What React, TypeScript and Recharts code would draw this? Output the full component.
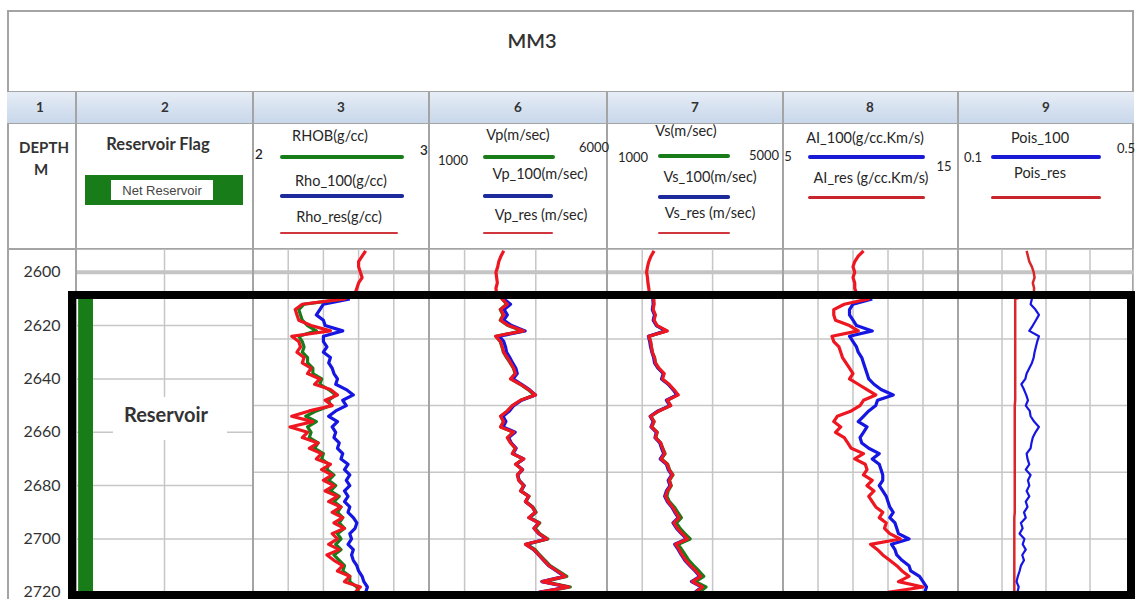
import React from 'react';
import { LineChart, Line, XAxis, YAxis, CartesianGrid, ReferenceLine, ReferenceArea } from 'recharts';

// depth samples (m), every 2 m
const DEPTH = [
  2592, 2594, 2596, 2598, 2600, 2602, 2604, 2606, 2608, 2610,
  2612, 2614, 2616, 2618, 2620, 2622, 2624, 2626, 2628, 2630,
  2632, 2634, 2636, 2638, 2640, 2642, 2644, 2646, 2648, 2650,
  2652, 2654, 2656, 2658, 2660, 2662, 2664, 2666, 2668, 2670,
  2672, 2674, 2676, 2678, 2680, 2682, 2684, 2686, 2688, 2690,
  2692, 2694, 2696, 2698, 2700, 2702, 2704, 2706, 2708, 2710,
  2712, 2714, 2716, 2718, 2720,
];

const N9 = [null, null, null, null, null, null, null, null, null];

// track 3 - density (g/cc)
const RHOB = [...N9,
  2.52, 2.29, 2.26, 2.27, 2.28, 2.31, 2.36, 2.26, 2.28, 2.29,
  2.28, 2.31, 2.31, 2.34, 2.34, 2.39, 2.38, 2.43, 2.47, 2.43,
  2.44, 2.36, 2.30, 2.36, 2.31, 2.33, 2.32, 2.37, 2.35, 2.40,
  2.39, 2.43, 2.42, 2.46, 2.43, 2.47, 2.44, 2.49, 2.46, 2.50,
  2.48, 2.51, 2.49, 2.52, 2.48, 2.50, 2.47, 2.50, 2.46, 2.49,
  2.52, 2.51, 2.55, 2.55, 2.59, 2.60,
];
const RHO_100 = [...N9,
  2.55, 2.40, 2.38, 2.36, 2.40, 2.41, 2.51, 2.40, 2.40, 2.42,
  2.40, 2.44, 2.43, 2.45, 2.46, 2.48, 2.47, 2.53, 2.57, 2.51,
  2.53, 2.47, 2.43, 2.48, 2.45, 2.47, 2.46, 2.49, 2.48, 2.51,
  2.50, 2.54, 2.52, 2.55, 2.53, 2.55, 2.52, 2.54, 2.52, 2.55,
  2.54, 2.57, 2.59, 2.58, 2.55, 2.56, 2.54, 2.57, 2.56, 2.57,
  2.59, 2.60, 2.62, 2.63, 2.65, 2.64,
];
const RHO_RES = [
  2.64, 2.62, 2.60, 2.60, 2.61, 2.62, 2.60, 2.59, 2.58, 2.52,
  2.28, 2.24, 2.25, 2.26, 2.33, 2.44, 2.22, 2.26, 2.27, 2.25,
  2.29, 2.28, 2.33, 2.31, 2.38, 2.35, 2.44, 2.48, 2.41, 2.45,
  2.32, 2.22, 2.34, 2.21, 2.31, 2.28, 2.37, 2.32, 2.39, 2.36,
  2.44, 2.39, 2.45, 2.40, 2.46, 2.41, 2.48, 2.43, 2.50, 2.45,
  2.51, 2.46, 2.52, 2.45, 2.48, 2.43, 2.49, 2.42, 2.46, 2.51,
  2.48, 2.55, 2.52, 2.61, 2.58,
];

// track 6 - P velocity (m/sec)
const VP = [...N9,
  3060, 3180, 3000, 3080, 3000, 3220, 3620, 2880, 3000, 3050,
  3090, 3180, 3280, 3370, 3420, 3300, 3560, 3780, 3960, 3580,
  3350, 3210, 3020, 3090, 3020, 3370, 3210, 3300, 3420, 3350,
  3640, 3440, 3620, 3490, 3530, 3670, 3580, 3810, 3720, 3920,
  4010, 3830, 4110, 3980, 4110, 4340, 3750, 3980, 4110, 4260,
  4400, 4640, 4870, 4230, 4970, 4150,
];
const VP_100 = [...N9,
  3100, 3290, 3110, 3200, 3100, 3320, 3700, 2980, 3100, 3150,
  3180, 3270, 3350, 3440, 3480, 3360, 3600, 3820, 3990, 3600,
  3380, 3260, 3080, 3160, 3080, 3420, 3240, 3310, 3450, 3360,
  3660, 3450, 3630, 3490, 3530, 3670, 3580, 3800, 3710, 3900,
  3990, 3810, 4080, 3950, 4080, 4300, 3720, 3940, 4080, 4220,
  4360, 4580, 4800, 4170, 4900, 4080,
];
const VP_RES = [
  3100, 3020, 2960, 2930, 2880, 2900, 2920, 2880, 2900, 3050,
  3200, 3010, 3100, 3010, 3240, 3660, 2870, 3010, 3060, 3100,
  3200, 3290, 3380, 3430, 3290, 3570, 3800, 3990, 3570, 3340,
  3200, 3010, 3100, 3010, 3380, 3200, 3290, 3430, 3340, 3660,
  3430, 3620, 3480, 3520, 3660, 3570, 3800, 3710, 3900, 3990,
  3800, 4090, 3950, 4090, 4320, 3710, 3950, 4090, 4230, 4370,
  4600, 4830, 4180, 4930, 4090,
];

// track 7 - S velocity (m/sec)
const VS = [...N9,
  2060, 2060, 2040, 2090, 2060, 2130, 2340, 1960, 1990, 2010,
  2030, 2080, 2100, 2170, 2290, 2250, 2400, 2510, 2600, 2370,
  2440, 2180, 2000, 2070, 2020, 2140, 2110, 2220, 2270, 2320,
  2240, 2380, 2420, 2500, 2420, 2460, 2390, 2360, 2420, 2530,
  2610, 2690, 2580, 2660, 2770, 2890, 2620, 2700, 2780, 2860,
  2970, 3090, 3200, 3010, 3250, 3100,
];
const VS_100 = [...N9,
  2040, 2050, 2030, 2080, 2050, 2120, 2340, 1940, 1970, 1990,
  2020, 2060, 2080, 2160, 2280, 2240, 2390, 2500, 2590, 2350,
  2430, 2160, 1980, 2050, 2000, 2120, 2090, 2200, 2240, 2290,
  2210, 2350, 2390, 2470, 2390, 2430, 2350, 2310, 2370, 2470,
  2540, 2620, 2500, 2580, 2690, 2810, 2540, 2620, 2690, 2770,
  2880, 3000, 3110, 2920, 3150, 3000,
];
const VS_RES = [
  2070, 2000, 1950, 1920, 1900, 1920, 1930, 1950, 1960, 2060,
  2070, 2050, 2100, 2070, 2140, 2370, 1950, 1990, 2010, 2030,
  2080, 2100, 2180, 2300, 2260, 2410, 2520, 2620, 2370, 2450,
  2180, 1990, 2070, 2010, 2140, 2100, 2220, 2260, 2310, 2230,
  2370, 2410, 2490, 2410, 2450, 2370, 2330, 2390, 2490, 2560,
  2640, 2520, 2600, 2710, 2830, 2560, 2640, 2710, 2790, 2900,
  3020, 3130, 2940, 3170, 3020,
];

// track 8 - acoustic impedance (g/cc.Km/s)
const AI_100 = [...N9,
  10.1, 9.0, 8.8, 8.8, 9.0, 9.2, 10.1, 8.8, 9.0, 9.2,
  9.3, 9.5, 9.6, 9.7, 9.8, 9.9, 10.2, 10.6, 11.3, 10.4,
  10.3, 9.9, 9.6, 9.3, 9.8, 9.6, 9.4, 9.5, 9.9, 10.5,
  10.1, 10.5, 10.6, 10.7, 10.7, 10.5, 10.7, 10.9, 11.0, 11.1,
  11.3, 11.1, 11.4, 11.5, 11.6, 12.2, 11.2, 11.4, 11.5, 11.8,
  12.2, 12.3, 12.8, 13.0, 13.2, 13.1,
];
const AI_RES = [
  9.6, 9.3, 9.1, 9.0, 9.1, 9.0, 9.1, 9.1, 9.2, 9.9,
  8.5, 7.9, 7.9, 8.0, 8.8, 9.3, 7.8, 7.9, 8.2, 8.3,
  8.4, 8.6, 8.8, 9.0, 8.8, 9.3, 9.8, 10.3, 9.6, 9.4,
  8.9, 8.1, 7.9, 8.3, 8.0, 8.5, 8.7, 8.9, 9.6, 9.1,
  9.7, 9.8, 9.6, 10.1, 9.8, 10.2, 9.9, 10.1, 10.3, 10.7,
  10.5, 10.9, 10.8, 11.1, 11.7, 10.0, 10.4, 10.7, 11.1, 11.5,
  11.8, 12.2, 11.6, 13.0, 11.0,
];

// track 9 - Poisson's ratio
const POIS_100 = [...N9,
  0.268, 0.265, 0.276, 0.284, 0.277, 0.270, 0.262, 0.284, 0.280, 0.277,
  0.274, 0.272, 0.268, 0.262, 0.256, 0.253, 0.244, 0.250, 0.255, 0.259,
  0.254, 0.263, 0.265, 0.273, 0.284, 0.276, 0.270, 0.267, 0.265, 0.256,
  0.258, 0.262, 0.254, 0.265, 0.259, 0.262, 0.256, 0.262, 0.254, 0.258,
  0.250, 0.254, 0.243, 0.247, 0.240, 0.251, 0.247, 0.254, 0.246, 0.250,
  0.243, 0.240, 0.236, 0.233, 0.238, 0.235,
];
const POIS_RES = [
  0.256, 0.259, 0.262, 0.268, 0.272, 0.274, 0.270, 0.273, 0.272, 0.230,
  0.230, 0.230, 0.230, 0.230, 0.230, 0.230, 0.230, 0.230, 0.230, 0.230,
  0.230, 0.230, 0.230, 0.230, 0.230, 0.230, 0.230, 0.230, 0.230, 0.229,
  0.229, 0.229, 0.229, 0.229, 0.229, 0.229, 0.229, 0.229, 0.229, 0.229,
  0.229, 0.229, 0.229, 0.229, 0.229, 0.229, 0.229, 0.229, 0.229, 0.229,
  0.228, 0.228, 0.228, 0.228, 0.228, 0.228, 0.228, 0.228, 0.228, 0.228,
  0.228, 0.228, 0.228, 0.228, 0.228,
];

const DEPTH_LABELS = [2600, 2620, 2640, 2660, 2680, 2700, 2720];
const DEPTH_GRID = [2600, 2625, 2650, 2675, 2700];
const RES_TOP = 2607;
const RES_BASE = 2722.5;

const rows = DEPTH.map((depth, i) => ({
  depth,
  rhob: RHOB[i], rho100: RHO_100[i], rhoRes: RHO_RES[i],
  vp: VP[i], vp100: VP_100[i], vpRes: VP_RES[i],
  vs: VS[i], vs100: VS_100[i], vsRes: VS_RES[i],
  ai100: AI_100[i], aiRes: AI_RES[i],
  pois100: POIS_100[i], poisRes: POIS_RES[i],
}));

const FONT = 'Lato, "Open Sans", sans-serif';
const RED = '#ee1620';
const BLUE = '#1616e2';
const GREEN = '#187c18';
const GRID = '#c6c6c6';
const BORDER = '#a4a4a4';

const D_MIN = 2591.3;
const D_MAX = 2722.5;
const PLOT_TOP = 249;
const PLOT_H = 350;
const yOf = (d: number) => PLOT_TOP + ((d - D_MIN) * PLOT_H) / (D_MAX - D_MIN);

type Curve = { key: string; color: string; width: number };
type Track = { left: number; width: number; domain: [number, number]; ticks: number[]; curves: Curve[] };

const TRACKS: Track[] = [
  {
    left: 253, width: 176, domain: [2, 3], ticks: [2, 2.2, 2.4, 2.6, 2.8, 3],
    curves: [
      { key: 'rho100', color: BLUE, width: 3.2 },
      { key: 'rhob', color: GREEN, width: 3.2 },
      { key: 'rhoRes', color: RED, width: 3.2 },
    ],
  },
  {
    left: 429, width: 178, domain: [1000, 6000], ticks: [1000, 2000, 3000, 4000, 5000, 6000],
    curves: [
      { key: 'vp', color: GREEN, width: 3.2 },
      { key: 'vp100', color: BLUE, width: 3.2 },
      { key: 'vpRes', color: RED, width: 3.2 },
    ],
  },
  {
    left: 607, width: 176, domain: [1000, 5000], ticks: [1000, 1800, 2600, 3400, 4200, 5000],
    curves: [
      { key: 'vs', color: GREEN, width: 3.2 },
      { key: 'vs100', color: BLUE, width: 3.2 },
      { key: 'vsRes', color: RED, width: 3.2 },
    ],
  },
  {
    left: 783, width: 175, domain: [5, 15], ticks: [5, 7, 9, 11, 13, 15],
    curves: [
      { key: 'ai100', color: BLUE, width: 3.2 },
      { key: 'aiRes', color: RED, width: 3.2 },
    ],
  },
  {
    left: 958, width: 176, domain: [0.1, 0.5], ticks: [0.1, 0.2, 0.3, 0.4, 0.5],
    curves: [
      { key: 'poisRes', color: '#d8262a', width: 2.5 },
      { key: 'pois100', color: BLUE, width: 2.2 },
    ],
  },
];

const COL_EDGES = [76, 253, 429, 607, 783, 958];
const COL_NUMS = [
  { n: '1', x: 40 }, { n: '2', x: 165 }, { n: '3', x: 341 }, { n: '6', x: 518 },
  { n: '7', x: 695 }, { n: '8', x: 870 }, { n: '9', x: 1046 },
];

const Txt = ({ x, y, children, size = 14.5, weight = 400, color = '#262626' }: any) => (
  <div
    style={{
      position: 'absolute', left: x, top: y, transform: 'translate(-50%, -50%)',
      fontSize: size, fontWeight: weight, color, whiteSpace: 'nowrap', lineHeight: 1, fontFamily: FONT,
    }}
  >
    {children}
  </div>
);

const Swatch = ({ x1, x2, y, color, h }: any) => (
  <div style={{ position: 'absolute', left: x1, top: y - h / 2, width: x2 - x1, height: h, background: color, borderRadius: h / 2 }} />
);

const DepthTick = ({ y, payload }: any) => (
  <text x={35} y={y} dy={5} textAnchor="middle" fontSize={16} fill="#333" fontFamily={FONT}>
    {payload.value}
  </text>
);

function FlagTrack() {
  // depth labels (track 1) + reservoir flag (track 2)
  return (
    <div style={{ position: 'absolute', left: 7, top: PLOT_TOP }}>
      <LineChart layout="vertical" width={246} height={PLOT_H} data={rows} margin={{ top: 0, right: 0, bottom: 0, left: 0 }}>
        <CartesianGrid stroke={GRID} strokeWidth={1.5} />
        <XAxis type="number" domain={[0, 1]} ticks={[0, 0.5, 1]} hide allowDataOverflow />
        <YAxis
          type="number" dataKey="depth" domain={[D_MIN, D_MAX]} ticks={DEPTH_GRID} allowDataOverflow
          yAxisId="grid" hide
        />
        <YAxis
          type="number" dataKey="depth" domain={[D_MIN, D_MAX]} ticks={DEPTH_LABELS} allowDataOverflow
          width={69} axisLine={false} tickLine={false} tick={<DepthTick />} interval={0}
        />
        <ReferenceLine y={2600} stroke="#c4c4c4" strokeWidth={4} />
        <ReferenceArea x1={0.012} x2={0.096} y1={RES_TOP} y2={RES_BASE} fill={GREEN} fillOpacity={1} stroke="none" />
      </LineChart>
    </div>
  );
}

function LogTrack({ track }: { track: Track }) {
  return (
    <div style={{ position: 'absolute', left: track.left, top: PLOT_TOP }}>
      <LineChart layout="vertical" width={track.width} height={PLOT_H} data={rows} margin={{ top: 0, right: 0, bottom: 0, left: 0 }}>
        <CartesianGrid stroke={GRID} strokeWidth={1.5} />
        <XAxis type="number" domain={track.domain} ticks={track.ticks} hide allowDataOverflow />
        <YAxis type="number" dataKey="depth" domain={[D_MIN, D_MAX]} ticks={DEPTH_GRID} hide allowDataOverflow />
        <ReferenceLine y={2600} stroke="#c4c4c4" strokeWidth={4} />
        {track.curves.map((c) => (
          <Line
            key={c.key} type="linear" dataKey={c.key} stroke={c.color} strokeWidth={c.width}
            dot={false} isAnimationActive={false} strokeLinejoin="round"
          />
        ))}
      </LineChart>
    </div>
  );
}

export default function App() {
  const boxTop = yOf(RES_TOP);
  const boxBottom = yOf(RES_BASE);
  return (
    <div style={{ position: 'absolute', left: 0, top: 0, width: 1141, height: 599, overflow: 'hidden', background: '#fff', fontFamily: FONT }}>
      {/* outer frame */}
      <div style={{ position: 'absolute', left: 7, top: 10, width: 1127, height: 620, border: `2px solid ${BORDER}`, boxSizing: 'border-box' }} />
      <Txt x={532} y={40} size={20} weight={600} color="#333">MM3</Txt>

      {/* column number row */}
      <div
        style={{
          position: 'absolute', left: 7, top: 91, width: 1127, height: 33, boxSizing: 'border-box',
          background: 'linear-gradient(#e6edf6, #c8d7ea)', borderTop: `1.5px solid ${BORDER}`, borderBottom: `1.5px solid ${BORDER}`,
        }}
      />
      {COL_NUMS.map((c) => (
        <Txt key={c.n} x={c.x} y={108} size={13.5} weight={700} color="#333">{c.n}</Txt>
      ))}
      <div style={{ position: 'absolute', left: 7, top: 248, width: 1127, height: 1.5, background: BORDER }} />

      {/* log tracks */}
      <FlagTrack />
      {TRACKS.map((t, i) => <LogTrack key={i} track={t} />)}

      {COL_EDGES.map((x) => (
        <div key={x} style={{ position: 'absolute', left: x - 1, top: 91, width: 1.5, height: 520, background: BORDER }} />
      ))}

      {/* header: track 1 & 2 */}
      <Txt x={44} y={147} size={15} weight={700} color="#333">DEPTH</Txt>
      <Txt x={41} y={169} size={15} weight={700} color="#333">M</Txt>
      <Txt x={158} y={144} size={16.5} weight={700} color="#333">Reservoir Flag</Txt>
      <div style={{ position: 'absolute', left: 85, top: 175, width: 158, height: 30, background: GREEN }} />
      <div style={{ position: 'absolute', left: 111, top: 180, width: 102, height: 20, background: '#fff' }} />
      <Txt x={162} y={190} size={13} color="#444">
        <span style={{ fontFamily: '"Liberation Sans", sans-serif' }}>Net Reservoir</span>
      </Txt>

      {/* header: track 3 */}
      <Txt x={259} y={155} size={13.5} weight={600}>2</Txt>
      <Txt x={330} y={136}>RHOB(g/cc)</Txt>
      <Swatch x1={280} x2={404} y={157} h={4.5} color={GREEN} />
      <Txt x={341} y={181}>Rho_100(g/cc)</Txt>
      <Swatch x1={280} x2={404} y={196} h={3.5} color="#1c2a9c" />
      <Txt x={339} y={217}>Rho_res(g/cc)</Txt>
      <Swatch x1={280} x2={398} y={233} h={2.5} color="#d0363c" />
      <Txt x={424} y={151} size={13.5} weight={600}>3</Txt>

      {/* header: track 6 */}
      <Txt x={453} y={160} size={13}>1000</Txt>
      <Txt x={518} y={135}>Vp(m/sec)</Txt>
      <Swatch x1={483} x2={555} y={157} h={4.5} color={GREEN} />
      <Txt x={594} y={147} size={13}>6000</Txt>
      <Txt x={540} y={174}>Vp_100(m/sec)</Txt>
      <Swatch x1={483} x2={553} y={196} h={3.5} color="#1c2a9c" />
      <Txt x={541} y={215}>Vp_res (m/sec)</Txt>
      <Swatch x1={483} x2={553} y={233} h={2.5} color="#d0363c" />

      {/* header: track 7 */}
      <Txt x={686} y={131}>Vs(m/sec)</Txt>
      <Txt x={633} y={157} size={13}>1000</Txt>
      <Swatch x1={658} x2={730} y={156} h={4.5} color={GREEN} />
      <Txt x={764} y={155} size={13}>5000</Txt>
      <Txt x={710} y={177}>Vs_100(m/sec)</Txt>
      <Swatch x1={658} x2={730} y={197} h={3.5} color="#1c2a9c" />
      <Txt x={710} y={213}>Vs_res (m/sec)</Txt>
      <Swatch x1={658} x2={730} y={233} h={2.5} color="#d0363c" />

      {/* header: track 8 */}
      <Txt x={788} y={156} size={13}>5</Txt>
      <Txt x={865} y={138}>AI_100(g/cc.Km/s)</Txt>
      <Swatch x1={808} x2={925} y={157} h={4.5} color="#1a1ad6" />
      <Txt x={944} y={166} size={13}>15</Txt>
      <Txt x={871} y={178}>AI_res (g/cc.Km/s)</Txt>
      <Swatch x1={808} x2={925} y={197} h={3} color="#c8262c" />

      {/* header: track 9 */}
      <Txt x={973} y={157} size={13}>0.1</Txt>
      <Txt x={1040} y={138}>Pois_100</Txt>
      <Swatch x1={991} x2={1101} y={157} h={4.5} color="#1a1ad6" />
      <Txt x={1126} y={148} size={13}>0.5</Txt>
      <Txt x={1040} y={173}>Pois_res</Txt>
      <Swatch x1={991} x2={1101} y={197} h={3} color="#c8262c" />

      {/* reservoir zone frame */}
      <div
        style={{
          position: 'absolute', left: 68, top: boxTop, width: 1135 - 68, height: boxBottom - boxTop,
          border: '8px solid #000', boxSizing: 'border-box',
        }}
      />
      <div style={{ position: 'absolute', left: 113, top: 397, width: 114, height: 43, background: '#fff' }} />
      <Txt x={166} y={414} size={20} weight={700} color="#333">Reservoir</Txt>
    </div>
  );
}
